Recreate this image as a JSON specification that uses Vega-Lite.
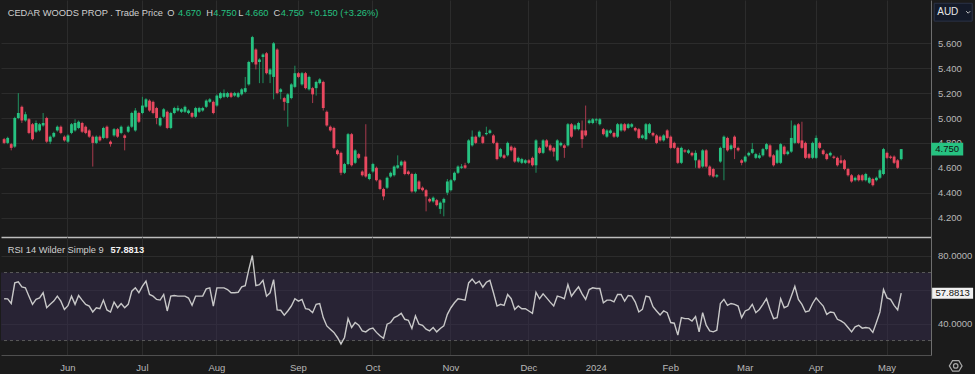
{
"$schema":"https://vega.github.io/schema/vega-lite/v6.json",
"background":"#1b1b1b",
"padding":0,
"spacing":0,
"config":{"view":{"stroke":null},"font":"Liberation Sans","axis":{"labelFont":"Liberation Sans"}},
"datasets":{"k":[
{"d":"2023-05-08","o":4.83,"h":4.84,"l":4.79,"c":4.80,"r":54.6},
{"d":"2023-05-09","o":4.80,"h":4.85,"l":4.79,"c":4.84,"r":54.5},
{"d":"2023-05-10","o":4.79,"h":4.80,"l":4.74,"c":4.76,"r":51.8},
{"d":"2023-05-11","o":4.77,"h":5.01,"l":4.76,"c":5.00,"r":63.9},
{"d":"2023-05-12","o":5.00,"h":5.20,"l":4.99,"c":5.04,"r":64.5},
{"d":"2023-05-15","o":5.09,"h":5.10,"l":4.96,"c":4.98,"r":61.5},
{"d":"2023-05-16","o":4.98,"h":5.05,"l":4.97,"c":5.03,"r":61.0},
{"d":"2023-05-17","o":4.99,"h":5.00,"l":4.87,"c":4.88,"r":56.1},
{"d":"2023-05-18","o":4.95,"h":4.96,"l":4.82,"c":4.83,"r":51.3},
{"d":"2023-05-19","o":4.89,"h":4.98,"l":4.88,"c":4.96,"r":54.2},
{"d":"2023-05-22","o":4.90,"h":4.96,"l":4.89,"c":4.95,"r":55.1},
{"d":"2023-05-23","o":4.94,"h":5.04,"l":4.93,"c":4.96,"r":58.1},
{"d":"2023-05-24","o":5.00,"h":5.01,"l":4.80,"c":4.81,"r":49.3},
{"d":"2023-05-25","o":4.81,"h":4.86,"l":4.79,"c":4.85,"r":51.3},
{"d":"2023-05-26","o":4.85,"h":4.89,"l":4.84,"c":4.88,"r":53.2},
{"d":"2023-05-29","o":4.90,"h":4.94,"l":4.89,"c":4.93,"r":56.1},
{"d":"2023-05-30","o":4.93,"h":4.94,"l":4.87,"c":4.88,"r":53.2},
{"d":"2023-05-31","o":4.85,"h":4.86,"l":4.81,"c":4.82,"r":48.3},
{"d":"2023-06-01","o":4.81,"h":4.87,"l":4.80,"c":4.86,"r":50.5},
{"d":"2023-06-02","o":4.88,"h":4.96,"l":4.87,"c":4.95,"r":56.1},
{"d":"2023-06-05","o":4.90,"h":4.99,"l":4.89,"c":4.96,"r":51.3},
{"d":"2023-06-06","o":4.92,"h":4.98,"l":4.91,"c":4.97,"r":56.5},
{"d":"2023-06-07","o":4.96,"h":4.97,"l":4.88,"c":4.89,"r":53.8},
{"d":"2023-06-08","o":4.93,"h":4.94,"l":4.87,"c":4.88,"r":51.3},
{"d":"2023-06-09","o":4.90,"h":4.91,"l":4.84,"c":4.85,"r":50.3},
{"d":"2023-06-13","o":4.85,"h":4.86,"l":4.61,"c":4.80,"r":46.8},
{"d":"2023-06-14","o":4.80,"h":4.86,"l":4.79,"c":4.85,"r":49.3},
{"d":"2023-06-15","o":4.85,"h":4.86,"l":4.81,"c":4.82,"r":48.7},
{"d":"2023-06-16","o":4.84,"h":4.93,"l":4.83,"c":4.92,"r":53.8},
{"d":"2023-06-19","o":4.93,"h":4.94,"l":4.83,"c":4.84,"r":48.0},
{"d":"2023-06-20","o":4.81,"h":4.82,"l":4.77,"c":4.79,"r":46.8},
{"d":"2023-06-21","o":4.86,"h":4.92,"l":4.85,"c":4.91,"r":52.6},
{"d":"2023-06-22","o":4.91,"h":4.92,"l":4.84,"c":4.85,"r":49.3},
{"d":"2023-06-23","o":4.88,"h":4.94,"l":4.87,"c":4.93,"r":51.8},
{"d":"2023-06-26","o":4.86,"h":4.87,"l":4.74,"c":4.84,"r":49.3},
{"d":"2023-06-27","o":4.89,"h":4.94,"l":4.88,"c":4.93,"r":51.3},
{"d":"2023-06-28","o":4.93,"h":5.05,"l":4.92,"c":5.04,"r":59.0},
{"d":"2023-06-29","o":4.90,"h":5.08,"l":4.89,"c":5.06,"r":61.0},
{"d":"2023-06-30","o":5.04,"h":5.05,"l":4.96,"c":4.97,"r":58.1},
{"d":"2023-07-03","o":5.04,"h":5.17,"l":5.03,"c":5.10,"r":62.0},
{"d":"2023-07-04","o":5.09,"h":5.16,"l":5.08,"c":5.15,"r":64.9},
{"d":"2023-07-05","o":5.14,"h":5.15,"l":5.05,"c":5.06,"r":57.1},
{"d":"2023-07-06","o":5.13,"h":5.14,"l":5.03,"c":5.04,"r":56.1},
{"d":"2023-07-07","o":5.08,"h":5.09,"l":4.95,"c":5.00,"r":54.2},
{"d":"2023-07-10","o":4.94,"h":5.01,"l":4.93,"c":5.00,"r":53.8},
{"d":"2023-07-11","o":5.01,"h":5.08,"l":5.00,"c":5.07,"r":57.1},
{"d":"2023-07-12","o":5.05,"h":5.06,"l":4.91,"c":4.92,"r":47.4},
{"d":"2023-07-13","o":4.92,"h":5.05,"l":4.91,"c":5.04,"r":56.1},
{"d":"2023-07-14","o":5.04,"h":5.09,"l":5.03,"c":5.08,"r":56.5},
{"d":"2023-07-17","o":5.06,"h":5.10,"l":5.05,"c":5.08,"r":56.1},
{"d":"2023-07-18","o":5.05,"h":5.08,"l":5.04,"c":5.07,"r":56.1},
{"d":"2023-07-19","o":5.05,"h":5.10,"l":5.04,"c":5.09,"r":56.1},
{"d":"2023-07-20","o":5.04,"h":5.07,"l":5.03,"c":5.06,"r":55.0},
{"d":"2023-07-21","o":5.04,"h":5.05,"l":5.00,"c":5.01,"r":50.7},
{"d":"2023-07-24","o":5.01,"h":5.09,"l":5.00,"c":5.08,"r":56.1},
{"d":"2023-07-25","o":5.05,"h":5.09,"l":5.04,"c":5.08,"r":56.1},
{"d":"2023-07-26","o":5.06,"h":5.09,"l":5.05,"c":5.08,"r":56.1},
{"d":"2023-07-27","o":5.09,"h":5.15,"l":5.08,"c":5.14,"r":60.4},
{"d":"2023-07-28","o":5.13,"h":5.16,"l":5.12,"c":5.15,"r":61.0},
{"d":"2023-07-31","o":5.13,"h":5.14,"l":5.03,"c":5.04,"r":50.3},
{"d":"2023-08-01","o":5.10,"h":5.19,"l":5.09,"c":5.18,"r":61.0},
{"d":"2023-08-02","o":5.16,"h":5.21,"l":5.15,"c":5.20,"r":61.0},
{"d":"2023-08-03","o":5.17,"h":5.23,"l":5.16,"c":5.20,"r":61.0},
{"d":"2023-08-04","o":5.17,"h":5.21,"l":5.16,"c":5.20,"r":60.0},
{"d":"2023-08-07","o":5.20,"h":5.21,"l":5.16,"c":5.17,"r":58.1},
{"d":"2023-08-08","o":5.18,"h":5.21,"l":5.17,"c":5.20,"r":58.1},
{"d":"2023-08-09","o":5.17,"h":5.21,"l":5.16,"c":5.20,"r":58.4},
{"d":"2023-08-10","o":5.19,"h":5.24,"l":5.18,"c":5.23,"r":61.6},
{"d":"2023-08-11","o":5.21,"h":5.33,"l":5.20,"c":5.24,"r":62.3},
{"d":"2023-08-14","o":5.27,"h":5.46,"l":5.26,"c":5.45,"r":71.7},
{"d":"2023-08-15","o":5.45,"h":5.66,"l":5.44,"c":5.65,"r":80.0},
{"d":"2023-08-16","o":5.55,"h":5.56,"l":5.39,"c":5.43,"r":62.3},
{"d":"2023-08-17","o":5.45,"h":5.48,"l":5.28,"c":5.47,"r":62.9},
{"d":"2023-08-18","o":5.49,"h":5.52,"l":5.28,"c":5.51,"r":65.4},
{"d":"2023-08-21","o":5.52,"h":5.53,"l":5.35,"c":5.36,"r":56.1},
{"d":"2023-08-22","o":5.35,"h":5.40,"l":5.28,"c":5.39,"r":58.1},
{"d":"2023-08-23","o":5.33,"h":5.61,"l":5.15,"c":5.60,"r":65.8},
{"d":"2023-08-24","o":5.55,"h":5.56,"l":5.19,"c":5.20,"r":48.0},
{"d":"2023-08-25","o":5.21,"h":5.24,"l":5.15,"c":5.23,"r":47.8},
{"d":"2023-08-28","o":5.16,"h":5.17,"l":5.06,"c":5.13,"r":44.9},
{"d":"2023-08-29","o":5.12,"h":5.20,"l":4.93,"c":5.19,"r":47.4},
{"d":"2023-08-30","o":5.16,"h":5.28,"l":5.15,"c":5.27,"r":50.3},
{"d":"2023-08-31","o":5.25,"h":5.42,"l":5.24,"c":5.36,"r":54.6},
{"d":"2023-09-01","o":5.36,"h":5.37,"l":5.32,"c":5.33,"r":53.2},
{"d":"2023-09-04","o":5.27,"h":5.37,"l":5.26,"c":5.36,"r":54.2},
{"d":"2023-09-05","o":5.36,"h":5.37,"l":5.23,"c":5.24,"r":48.7},
{"d":"2023-09-06","o":5.23,"h":5.34,"l":5.22,"c":5.33,"r":48.3},
{"d":"2023-09-07","o":5.24,"h":5.25,"l":5.12,"c":5.19,"r":46.4},
{"d":"2023-09-08","o":5.24,"h":5.30,"l":5.18,"c":5.29,"r":51.3},
{"d":"2023-09-11","o":5.28,"h":5.32,"l":5.27,"c":5.31,"r":51.8},
{"d":"2023-09-12","o":5.29,"h":5.30,"l":5.06,"c":5.08,"r":43.5},
{"d":"2023-09-13","o":5.05,"h":5.06,"l":4.93,"c":4.94,"r":38.6},
{"d":"2023-09-14","o":4.93,"h":4.94,"l":4.89,"c":4.90,"r":36.7},
{"d":"2023-09-15","o":4.92,"h":4.93,"l":4.75,"c":4.76,"r":34.8},
{"d":"2023-09-18","o":4.74,"h":4.75,"l":4.70,"c":4.71,"r":31.8},
{"d":"2023-09-19","o":4.72,"h":4.73,"l":4.54,"c":4.56,"r":28.0},
{"d":"2023-09-20","o":4.56,"h":4.64,"l":4.55,"c":4.63,"r":31.8},
{"d":"2023-09-21","o":4.63,"h":4.88,"l":4.62,"c":4.87,"r":42.9},
{"d":"2023-09-22","o":4.87,"h":4.88,"l":4.61,"c":4.62,"r":37.7},
{"d":"2023-09-25","o":4.64,"h":4.75,"l":4.63,"c":4.74,"r":40.6},
{"d":"2023-09-26","o":4.71,"h":4.72,"l":4.67,"c":4.68,"r":39.0},
{"d":"2023-09-27","o":4.57,"h":4.58,"l":4.53,"c":4.54,"r":35.7},
{"d":"2023-09-28","o":4.69,"h":4.95,"l":4.52,"c":4.53,"r":35.1},
{"d":"2023-09-29","o":4.51,"h":4.56,"l":4.50,"c":4.55,"r":36.7},
{"d":"2023-10-02","o":4.57,"h":4.64,"l":4.56,"c":4.63,"r":37.3},
{"d":"2023-10-03","o":4.60,"h":4.61,"l":4.49,"c":4.50,"r":34.8},
{"d":"2023-10-04","o":4.50,"h":4.51,"l":4.42,"c":4.43,"r":32.8},
{"d":"2023-10-05","o":4.43,"h":4.44,"l":4.34,"c":4.37,"r":31.3},
{"d":"2023-10-06","o":4.44,"h":4.53,"l":4.43,"c":4.52,"r":39.6},
{"d":"2023-10-09","o":4.53,"h":4.57,"l":4.52,"c":4.56,"r":40.6},
{"d":"2023-10-10","o":4.54,"h":4.62,"l":4.53,"c":4.61,"r":43.5},
{"d":"2023-10-11","o":4.60,"h":4.70,"l":4.59,"c":4.62,"r":44.5},
{"d":"2023-10-12","o":4.62,"h":4.66,"l":4.61,"c":4.65,"r":46.0},
{"d":"2023-10-13","o":4.65,"h":4.66,"l":4.54,"c":4.55,"r":42.5},
{"d":"2023-10-16","o":4.57,"h":4.58,"l":4.54,"c":4.55,"r":41.9},
{"d":"2023-10-17","o":4.55,"h":4.56,"l":4.40,"c":4.41,"r":37.1},
{"d":"2023-10-18","o":4.41,"h":4.56,"l":4.40,"c":4.55,"r":44.5},
{"d":"2023-10-19","o":4.49,"h":4.50,"l":4.42,"c":4.43,"r":39.6},
{"d":"2023-10-20","o":4.44,"h":4.45,"l":4.41,"c":4.42,"r":39.0},
{"d":"2023-10-23","o":4.42,"h":4.43,"l":4.25,"c":4.37,"r":36.7},
{"d":"2023-10-24","o":4.35,"h":4.36,"l":4.32,"c":4.33,"r":35.7},
{"d":"2023-10-25","o":4.33,"h":4.37,"l":4.32,"c":4.36,"r":37.7},
{"d":"2023-10-26","o":4.34,"h":4.35,"l":4.29,"c":4.30,"r":35.1},
{"d":"2023-10-27","o":4.27,"h":4.33,"l":4.23,"c":4.32,"r":37.1},
{"d":"2023-10-30","o":4.32,"h":4.36,"l":4.21,"c":4.35,"r":38.6},
{"d":"2023-10-31","o":4.40,"h":4.51,"l":4.38,"c":4.49,"r":45.4},
{"d":"2023-11-01","o":4.42,"h":4.51,"l":4.41,"c":4.50,"r":49.3},
{"d":"2023-11-02","o":4.50,"h":4.57,"l":4.49,"c":4.56,"r":52.2},
{"d":"2023-11-03","o":4.56,"h":4.62,"l":4.55,"c":4.61,"r":54.6},
{"d":"2023-11-06","o":4.60,"h":4.63,"l":4.59,"c":4.61,"r":54.2},
{"d":"2023-11-07","o":4.62,"h":4.64,"l":4.59,"c":4.60,"r":53.8},
{"d":"2023-11-08","o":4.64,"h":4.83,"l":4.63,"c":4.82,"r":63.9},
{"d":"2023-11-09","o":4.78,"h":4.90,"l":4.77,"c":4.85,"r":66.2},
{"d":"2023-11-10","o":4.85,"h":4.86,"l":4.79,"c":4.80,"r":63.5},
{"d":"2023-11-13","o":4.85,"h":4.90,"l":4.84,"c":4.89,"r":64.9},
{"d":"2023-11-14","o":4.85,"h":4.86,"l":4.79,"c":4.80,"r":61.4},
{"d":"2023-11-15","o":4.87,"h":4.93,"l":4.86,"c":4.88,"r":64.3},
{"d":"2023-11-16","o":4.88,"h":4.91,"l":4.87,"c":4.90,"r":65.4},
{"d":"2023-11-17","o":4.86,"h":4.87,"l":4.79,"c":4.80,"r":58.1},
{"d":"2023-11-20","o":4.80,"h":4.81,"l":4.66,"c":4.67,"r":50.3},
{"d":"2023-11-21","o":4.69,"h":4.76,"l":4.68,"c":4.75,"r":51.3},
{"d":"2023-11-22","o":4.70,"h":4.71,"l":4.67,"c":4.68,"r":50.7},
{"d":"2023-11-23","o":4.70,"h":4.81,"l":4.69,"c":4.80,"r":57.1},
{"d":"2023-11-24","o":4.77,"h":4.78,"l":4.73,"c":4.74,"r":54.6},
{"d":"2023-11-27","o":4.76,"h":4.77,"l":4.64,"c":4.65,"r":48.3},
{"d":"2023-11-28","o":4.65,"h":4.69,"l":4.64,"c":4.68,"r":50.3},
{"d":"2023-11-29","o":4.64,"h":4.68,"l":4.63,"c":4.67,"r":48.7},
{"d":"2023-11-30","o":4.64,"h":4.67,"l":4.63,"c":4.66,"r":48.7},
{"d":"2023-12-01","o":4.66,"h":4.67,"l":4.63,"c":4.64,"r":47.4},
{"d":"2023-12-04","o":4.68,"h":4.69,"l":4.61,"c":4.62,"r":46.0},
{"d":"2023-12-05","o":4.62,"h":4.83,"l":4.56,"c":4.82,"r":58.4},
{"d":"2023-12-06","o":4.76,"h":4.77,"l":4.71,"c":4.72,"r":54.6},
{"d":"2023-12-07","o":4.72,"h":4.83,"l":4.71,"c":4.82,"r":57.5},
{"d":"2023-12-08","o":4.82,"h":4.83,"l":4.76,"c":4.77,"r":55.1},
{"d":"2023-12-11","o":4.78,"h":4.79,"l":4.73,"c":4.74,"r":52.6},
{"d":"2023-12-12","o":4.76,"h":4.77,"l":4.69,"c":4.73,"r":50.3},
{"d":"2023-12-13","o":4.66,"h":4.83,"l":4.65,"c":4.82,"r":56.1},
{"d":"2023-12-14","o":4.78,"h":4.81,"l":4.77,"c":4.80,"r":55.5},
{"d":"2023-12-15","o":4.78,"h":4.79,"l":4.68,"c":4.76,"r":54.6},
{"d":"2023-12-18","o":4.78,"h":4.96,"l":4.77,"c":4.95,"r":62.9},
{"d":"2023-12-19","o":4.95,"h":4.96,"l":4.84,"c":4.85,"r":56.1},
{"d":"2023-12-20","o":4.91,"h":4.95,"l":4.90,"c":4.94,"r":59.0},
{"d":"2023-12-21","o":4.91,"h":4.97,"l":4.90,"c":4.96,"r":61.6},
{"d":"2023-12-22","o":4.90,"h":4.98,"l":4.76,"c":4.83,"r":57.5},
{"d":"2023-12-27","o":4.90,"h":5.10,"l":4.85,"c":4.86,"r":54.2},
{"d":"2023-12-28","o":4.96,"h":4.99,"l":4.95,"c":4.98,"r":60.0},
{"d":"2023-12-29","o":4.96,"h":5.00,"l":4.95,"c":4.99,"r":61.0},
{"d":"2024-01-02","o":4.98,"h":5.00,"l":4.96,"c":4.99,"r":60.6},
{"d":"2024-01-03","o":4.95,"h":5.00,"l":4.94,"c":4.99,"r":60.6},
{"d":"2024-01-04","o":4.91,"h":4.92,"l":4.86,"c":4.87,"r":52.2},
{"d":"2024-01-05","o":4.85,"h":4.91,"l":4.84,"c":4.90,"r":53.8},
{"d":"2024-01-08","o":4.88,"h":4.91,"l":4.87,"c":4.90,"r":53.8},
{"d":"2024-01-09","o":4.88,"h":4.89,"l":4.84,"c":4.85,"r":52.8},
{"d":"2024-01-10","o":4.85,"h":4.96,"l":4.84,"c":4.95,"r":57.1},
{"d":"2024-01-11","o":4.90,"h":4.96,"l":4.89,"c":4.95,"r":57.1},
{"d":"2024-01-12","o":4.95,"h":4.96,"l":4.89,"c":4.90,"r":53.2},
{"d":"2024-01-15","o":4.92,"h":4.96,"l":4.91,"c":4.95,"r":56.5},
{"d":"2024-01-16","o":4.93,"h":4.96,"l":4.92,"c":4.95,"r":56.1},
{"d":"2024-01-17","o":4.92,"h":4.93,"l":4.89,"c":4.90,"r":52.6},
{"d":"2024-01-18","o":4.91,"h":4.92,"l":4.83,"c":4.84,"r":46.8},
{"d":"2024-01-19","o":4.84,"h":4.87,"l":4.83,"c":4.86,"r":48.3},
{"d":"2024-01-22","o":4.83,"h":4.96,"l":4.82,"c":4.95,"r":56.1},
{"d":"2024-01-23","o":4.88,"h":4.96,"l":4.87,"c":4.95,"r":55.5},
{"d":"2024-01-24","o":4.88,"h":4.89,"l":4.85,"c":4.86,"r":49.9},
{"d":"2024-01-25","o":4.86,"h":4.87,"l":4.79,"c":4.80,"r":47.4},
{"d":"2024-01-29","o":4.85,"h":4.86,"l":4.81,"c":4.82,"r":45.0},
{"d":"2024-01-30","o":4.82,"h":4.87,"l":4.81,"c":4.86,"r":47.4},
{"d":"2024-01-31","o":4.90,"h":4.91,"l":4.83,"c":4.84,"r":46.4},
{"d":"2024-02-01","o":4.85,"h":4.86,"l":4.75,"c":4.76,"r":40.6},
{"d":"2024-02-02","o":4.80,"h":4.81,"l":4.75,"c":4.76,"r":40.2},
{"d":"2024-02-05","o":4.76,"h":4.77,"l":4.63,"c":4.64,"r":33.2},
{"d":"2024-02-06","o":4.64,"h":4.77,"l":4.63,"c":4.76,"r":43.5},
{"d":"2024-02-07","o":4.74,"h":4.75,"l":4.72,"c":4.73,"r":42.9},
{"d":"2024-02-08","o":4.72,"h":4.75,"l":4.71,"c":4.74,"r":42.9},
{"d":"2024-02-09","o":4.72,"h":4.73,"l":4.69,"c":4.70,"r":41.5},
{"d":"2024-02-12","o":4.66,"h":4.74,"l":4.60,"c":4.72,"r":44.1},
{"d":"2024-02-13","o":4.66,"h":4.67,"l":4.59,"c":4.60,"r":35.1},
{"d":"2024-02-14","o":4.61,"h":4.75,"l":4.60,"c":4.74,"r":46.4},
{"d":"2024-02-15","o":4.74,"h":4.75,"l":4.60,"c":4.61,"r":39.0},
{"d":"2024-02-16","o":4.61,"h":4.62,"l":4.53,"c":4.54,"r":35.7},
{"d":"2024-02-19","o":4.59,"h":4.60,"l":4.52,"c":4.53,"r":35.1},
{"d":"2024-02-20","o":4.53,"h":4.55,"l":4.52,"c":4.54,"r":36.1},
{"d":"2024-02-21","o":4.65,"h":4.77,"l":4.64,"c":4.76,"r":51.8},
{"d":"2024-02-22","o":4.76,"h":4.86,"l":4.50,"c":4.85,"r":54.2},
{"d":"2024-02-23","o":4.84,"h":4.85,"l":4.73,"c":4.74,"r":50.7},
{"d":"2024-02-26","o":4.75,"h":4.79,"l":4.74,"c":4.78,"r":51.8},
{"d":"2024-02-27","o":4.85,"h":4.86,"l":4.67,"c":4.76,"r":51.3},
{"d":"2024-02-28","o":4.76,"h":4.77,"l":4.73,"c":4.74,"r":50.3},
{"d":"2024-02-29","o":4.66,"h":4.67,"l":4.62,"c":4.64,"r":43.5},
{"d":"2024-03-01","o":4.65,"h":4.70,"l":4.64,"c":4.69,"r":47.4},
{"d":"2024-03-04","o":4.70,"h":4.73,"l":4.69,"c":4.72,"r":48.3},
{"d":"2024-03-05","o":4.72,"h":4.80,"l":4.71,"c":4.75,"r":51.3},
{"d":"2024-03-06","o":4.68,"h":4.72,"l":4.67,"c":4.71,"r":46.4},
{"d":"2024-03-07","o":4.68,"h":4.72,"l":4.67,"c":4.70,"r":48.3},
{"d":"2024-03-08","o":4.70,"h":4.76,"l":4.69,"c":4.75,"r":51.3},
{"d":"2024-03-11","o":4.75,"h":4.80,"l":4.74,"c":4.79,"r":54.6},
{"d":"2024-03-12","o":4.78,"h":4.79,"l":4.68,"c":4.69,"r":48.3},
{"d":"2024-03-13","o":4.70,"h":4.71,"l":4.61,"c":4.62,"r":42.9},
{"d":"2024-03-14","o":4.64,"h":4.75,"l":4.63,"c":4.74,"r":43.5},
{"d":"2024-03-15","o":4.64,"h":4.80,"l":4.63,"c":4.79,"r":54.6},
{"d":"2024-03-18","o":4.77,"h":4.78,"l":4.70,"c":4.71,"r":49.3},
{"d":"2024-03-19","o":4.71,"h":4.74,"l":4.70,"c":4.73,"r":50.3},
{"d":"2024-03-20","o":4.73,"h":4.98,"l":4.72,"c":4.84,"r":56.1},
{"d":"2024-03-21","o":4.80,"h":4.95,"l":4.79,"c":4.94,"r":61.9},
{"d":"2024-03-22","o":4.95,"h":4.96,"l":4.79,"c":4.80,"r":54.2},
{"d":"2024-03-25","o":4.82,"h":4.97,"l":4.75,"c":4.76,"r":51.3},
{"d":"2024-03-26","o":4.80,"h":4.81,"l":4.67,"c":4.68,"r":46.8},
{"d":"2024-03-27","o":4.71,"h":4.72,"l":4.67,"c":4.68,"r":47.4},
{"d":"2024-03-28","o":4.68,"h":4.81,"l":4.67,"c":4.80,"r":51.8},
{"d":"2024-04-02","o":4.68,"h":4.86,"l":4.67,"c":4.84,"r":55.1},
{"d":"2024-04-03","o":4.80,"h":4.81,"l":4.75,"c":4.76,"r":52.6},
{"d":"2024-04-04","o":4.74,"h":4.75,"l":4.70,"c":4.71,"r":50.3},
{"d":"2024-04-05","o":4.71,"h":4.72,"l":4.66,"c":4.67,"r":45.4},
{"d":"2024-04-08","o":4.70,"h":4.73,"l":4.69,"c":4.72,"r":46.8},
{"d":"2024-04-09","o":4.69,"h":4.70,"l":4.67,"c":4.68,"r":46.4},
{"d":"2024-04-10","o":4.68,"h":4.69,"l":4.61,"c":4.62,"r":42.5},
{"d":"2024-04-11","o":4.66,"h":4.70,"l":4.63,"c":4.64,"r":41.6},
{"d":"2024-04-12","o":4.66,"h":4.67,"l":4.58,"c":4.59,"r":40.2},
{"d":"2024-04-15","o":4.59,"h":4.60,"l":4.53,"c":4.54,"r":37.7},
{"d":"2024-04-16","o":4.54,"h":4.55,"l":4.48,"c":4.49,"r":35.1},
{"d":"2024-04-17","o":4.50,"h":4.53,"l":4.49,"c":4.52,"r":38.1},
{"d":"2024-04-18","o":4.54,"h":4.55,"l":4.49,"c":4.50,"r":39.0},
{"d":"2024-04-19","o":4.54,"h":4.55,"l":4.49,"c":4.50,"r":37.3},
{"d":"2024-04-22","o":4.50,"h":4.56,"l":4.49,"c":4.55,"r":37.7},
{"d":"2024-04-23","o":4.48,"h":4.53,"l":4.47,"c":4.52,"r":37.3},
{"d":"2024-04-24","o":4.51,"h":4.52,"l":4.45,"c":4.46,"r":34.8},
{"d":"2024-04-26","o":4.50,"h":4.53,"l":4.49,"c":4.52,"r":40.6},
{"d":"2024-04-29","o":4.52,"h":4.59,"l":4.51,"c":4.58,"r":46.8},
{"d":"2024-04-30","o":4.55,"h":4.76,"l":4.54,"c":4.75,"r":60.0},
{"d":"2024-05-01","o":4.72,"h":4.73,"l":4.67,"c":4.68,"r":55.1},
{"d":"2024-05-02","o":4.69,"h":4.70,"l":4.67,"c":4.68,"r":54.2},
{"d":"2024-05-03","o":4.69,"h":4.70,"l":4.63,"c":4.64,"r":50.7},
{"d":"2024-05-06","o":4.66,"h":4.67,"l":4.59,"c":4.60,"r":48.0},
{"d":"2024-05-07","o":4.67,"h":4.75,"l":4.66,"c":4.75,"r":57.8813}
]},
"vconcat":[
{
"width":930,"height":237,
"layer":[
{"data":{"name":"k"},"mark":{"type":"rule","strokeWidth":1},
"encoding":{
"x":{"field":"d","type":"ordinal","scale":{"type":"band","domain":{"unionWith":["2024-05-08","2024-05-09","2024-05-10","2024-05-13","2024-05-14","2024-05-15","2024-05-16","2024-05-17"]},"paddingInner":0.2,"paddingOuter":0.242,"align":1,"round":false},
"axis":{"orient":"bottom","values":["2023-06-01","2023-07-03","2023-08-01","2023-09-01","2023-10-02","2023-11-01","2023-12-01","2024-01-02","2024-02-01","2024-03-01","2024-04-02","2024-05-01"],"labels":false,"ticks":false,"grid":true,"gridColor":"#2c2c2c","domain":true,"domainColor":"#bdbdbd","domainWidth":1.5,"title":null,"bandPosition":0.5,"minExtent":0,"maxExtent":0}},
"y":{"field":"l","type":"quantitative","scale":{"domain":[4.044,5.948],"nice":false,"zero":false},
"axis":{"orient":"right","values":[4.2,4.4,4.6,4.8,5.0,5.2,5.4,5.6],"tickCount":30,"format":".3f","labelOverlap":false,"grid":true,"gridColor":"#2c2c2c","ticks":false,"domain":true,"domainColor":"#6e6e6e","labelColor":"#b8b8b8","labelFontSize":9.5,"labelPadding":6.5,"title":null}},
"y2":{"field":"h"},
"color":{"condition":{"test":"datum.c >= datum.o","value":"#1f8f5f"},"value":"#a83a4d"}}},
{"data":{"name":"k"},"mark":{"type":"bar"},
"encoding":{
"x":{"field":"d","type":"ordinal"},
"y":{"field":"o","type":"quantitative"},
"y2":{"field":"c"},
"color":{"condition":{"test":"datum.c >= datum.o","value":"#26c281"},"value":"#e9485f"}}},
{"data":{"values":[
{"d":"2023-05-09","t":"CEDAR WOODS PROP . Trade Price","k":"n"},
{"d":"2023-07-12","t":"O","k":"n"},
{"d":"2023-07-17","t":"4.670","k":"v"},
{"d":"2023-07-27","t":"H","k":"n"},
{"d":"2023-07-31","t":"4.750","k":"v"},
{"d":"2023-08-09","t":"L","k":"n"},
{"d":"2023-08-11","t":"4.660","k":"v"},
{"d":"2023-08-23","t":"C","k":"n"},
{"d":"2023-08-25","t":"4.750","k":"v"},
{"d":"2023-09-06","t":"+0.150 (+3.26%)","k":"v"}]},
"mark":{"type":"text","align":"left","baseline":"middle","fontSize":9.3},
"encoding":{
"x":{"field":"d","type":"ordinal"},
"y":{"datum":5.846,"type":"quantitative"},
"text":{"field":"t"},
"color":{"condition":{"test":"datum.k == 'v'","value":"#26c281"},"value":"#cfcfcf"}}},
{"data":{"name":"k"},"transform":[{"filter":"datum.d == '2024-05-07'"}],
"mark":{"type":"point","shape":"M-1,-0.4L1,-0.4L1,0.4L-1,0.4Z","size":1024,"filled":true,"opacity":1,"color":"#26c281","xOffset":46},
"encoding":{"x":{"field":"d","type":"ordinal"},"y":{"field":"c","type":"quantitative"}}},
{"data":{"name":"k"},"transform":[{"filter":"datum.d == '2024-05-07'"}],
"mark":{"type":"text","align":"center","baseline":"middle","fontSize":9.5,"color":"#101010","dx":46},
"encoding":{"x":{"field":"d","type":"ordinal"},"y":{"field":"c","type":"quantitative"},"text":{"field":"c","type":"quantitative","format":".3f"}}},
{"data":{"values":[{"t":"AUD"}]},
"mark":{"type":"point","shape":"M-1,-0.47L1,-0.47L1,0.47L-1,0.47Z","size":1444,"filled":true,"opacity":1,"fill":"#141a29","stroke":"#2c3347","strokeWidth":1,"xOffset":52},
"encoding":{"x":{"datum":"2024-05-07","type":"ordinal"},"y":{"datum":5.85,"type":"quantitative"}}},
{"data":{"values":[{"t":"AUD"}]},
"mark":{"type":"text","align":"left","baseline":"middle","fontSize":10,"color":"#e6e6e6","dx":36},
"encoding":{"x":{"datum":"2024-05-07","type":"ordinal"},"y":{"datum":5.85,"type":"quantitative"},"text":{"field":"t"}}},
{"data":{"values":[{"t":"v"}]},
"mark":{"type":"point","shape":"M-1,-0.5L0,0.5L1,-0.5","size":16,"filled":false,"opacity":1,"stroke":"#c8c8c8","strokeWidth":1,"xOffset":67},
"encoding":{"x":{"datum":"2024-05-07","type":"ordinal"},"y":{"datum":5.85,"type":"quantitative"}}}
]
},
{
"width":930,"height":118,
"layer":[
{"data":{"values":[{"lo":30,"hi":70}]},"mark":{"type":"rect","color":"#352b4d","opacity":0.5},
"encoding":{
"y":{"field":"hi","type":"quantitative","scale":{"domain":[21.5,90.9],"nice":false,"zero":false},
"axis":{"orient":"right","values":[40,60,80],"tickCount":30,"labelExpr":"datum.value == 60 ? '' : format(datum.value, '.4f')","labelOverlap":false,"grid":true,"gridColor":"#2c2c2c","ticks":false,"domain":true,"domainColor":"#6e6e6e","labelColor":"#b8b8b8","labelFontSize":9.5,"labelPadding":6.5,"title":null}},
"y2":{"field":"lo"}}},
{"data":{"values":[{"v":30},{"v":70}]},"mark":{"type":"rule","color":"#5a5a5a","strokeDash":[3,3],"strokeWidth":1},
"encoding":{"y":{"field":"v","type":"quantitative"}}},
{"data":{"name":"k"},"mark":{"type":"line","color":"#c8c8c8","strokeWidth":1.4},
"encoding":{
"x":{"field":"d","type":"ordinal","scale":{"type":"band","domain":{"unionWith":["2024-05-08","2024-05-09","2024-05-10","2024-05-13","2024-05-14","2024-05-15","2024-05-16","2024-05-17"]},"paddingInner":0.2,"paddingOuter":0.242,"align":1,"round":false},
"axis":{"orient":"bottom","values":["2023-06-01","2023-07-03","2023-08-01","2023-09-01","2023-10-02","2023-11-01","2023-12-01","2024-01-02","2024-02-01","2024-03-01","2024-04-02","2024-05-01"],"labelExpr":"datum.value == '2024-01-02' ? '2024' : utcFormat(toDate(datum.value), '%b')","labelAngle":0,"grid":true,"gridColor":"#2c2c2c","ticks":false,"domain":true,"domainColor":"#4f4f4f","labelColor":"#b8b8b8","labelFontSize":9.5,"labelPadding":7,"title":null,"bandPosition":0.5,"labelOverlap":false,"labelFlush":false}},
"y":{"field":"r","type":"quantitative"}}},
{"data":{"values":[{"d":"2023-05-09","t":"RSI 14 Wilder Simple 9"}]},
"mark":{"type":"text","align":"left","baseline":"middle","fontSize":9.3,"color":"#cfcfcf"},
"encoding":{"x":{"field":"d","type":"ordinal"},"y":{"datum":83.3,"type":"quantitative"},"text":{"field":"t"}}},
{"data":{"name":"k"},"transform":[{"filter":"datum.d == '2024-05-07'"}],
"mark":{"type":"text","align":"left","baseline":"middle","fontSize":9.3,"fontWeight":"bold","color":"#f2f2f2"},
"encoding":{"x":{"datum":"2023-06-20","type":"ordinal"},"y":{"datum":83.3,"type":"quantitative"},"text":{"field":"r","type":"quantitative","format":".4f"}}},
{"data":{"name":"k"},"transform":[{"filter":"datum.d == '2024-05-07'"}],
"mark":{"type":"point","shape":"M-1,-0.268L1,-0.268L1,0.268L-1,0.268Z","size":1681,"filled":true,"opacity":1,"color":"#f0f0f0","xOffset":51.4},
"encoding":{"x":{"field":"d","type":"ordinal"},"y":{"field":"r","type":"quantitative"}}},
{"data":{"name":"k"},"transform":[{"filter":"datum.d == '2024-05-07'"}],
"mark":{"type":"text","align":"center","baseline":"middle","fontSize":9.5,"color":"#101010","dx":51.4},
"encoding":{"x":{"field":"d","type":"ordinal"},"y":{"field":"r","type":"quantitative"},"text":{"field":"r","type":"quantitative","format":".4f"}}},
{"data":{"values":[{"t":"gear"}]},
"mark":{"type":"point","shape":"M-1,0L-0.5,-0.84L0.5,-0.84L1,0L0.5,0.84L-0.5,0.84Z","size":160,"filled":false,"opacity":1,"stroke":"#a8a8a8","strokeWidth":1.2,"xOffset":54.5},
"encoding":{"x":{"datum":"2024-05-07","type":"ordinal"},"y":{"datum":15.1,"type":"quantitative"}}},
{"data":{"values":[{"t":"gear"}]},
"mark":{"type":"point","shape":"circle","size":20,"filled":false,"opacity":1,"stroke":"#a8a8a8","strokeWidth":1.2,"xOffset":54.5},
"encoding":{"x":{"datum":"2024-05-07","type":"ordinal"},"y":{"datum":15.1,"type":"quantitative"}}}
]
}
]
}
